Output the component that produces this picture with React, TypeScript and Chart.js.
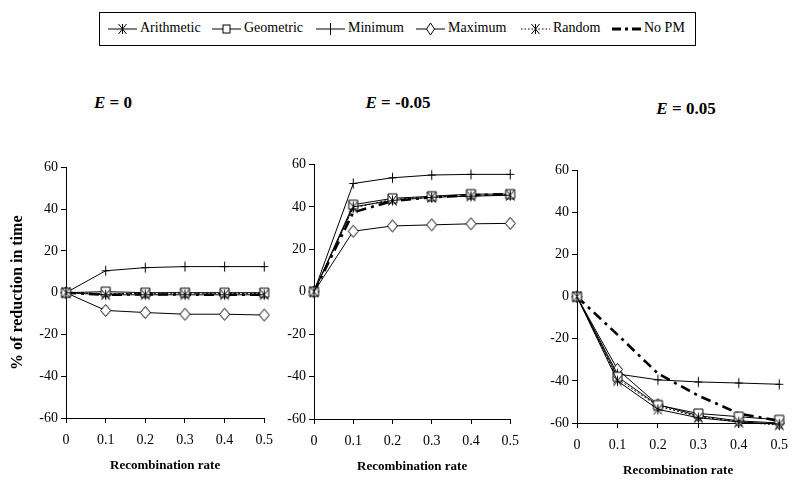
import React, { useEffect, useRef } from 'react';
import { Chart, registerables } from 'chart.js';

Chart.register(...registerables);

const rates = ['0', '0.1', '0.2', '0.3', '0.4', '0.5'];
const yMin = -60;
const yMax = 60;
const yStep = 20;
const seriesNames = ['Arithmetic', 'Geometric', 'Minimum', 'Maximum', 'Random', 'No PM'];

// E = 0
const e0Arithmetic = [0, -1, -1, -1, -1, -1];
const e0Geometric = [0, 0.5, 0, 0, 0, 0];
const e0Minimum = [0, 10.5, 12, 12.5, 12.5, 12.5];
const e0Maximum = [0, -8.5, -9.5, -10.3, -10.3, -10.7];
const e0Random = [0, -0.5, -0.3, -0.2, -0.3, -0.3];
const e0NoPM = [0, -1, -0.8, -0.9, -1, -1];

// E = -0.05
const eNegArithmetic = [0, 40, 43, 44.5, 45, 45.5];
const eNegGeometric = [0, 41, 44, 45, 46, 46];
const eNegMinimum = [0, 51, 53.7, 55, 55.3, 55.3];
const eNegMaximum = [0, 28.5, 31, 31.5, 32, 32.2];
const eNegRandom = [0, 39.5, 43.5, 44.5, 45.5, 45.5];
const eNegNoPM = [0, 37.4, 42.8, 44.5, 45.5, 46];

// E = 0.05
const ePosArithmetic = [0, -40, -53.5, -57.5, -59.5, -60.5];
const ePosGeometric = [0, -38, -51.5, -55.5, -57, -58.5];
const ePosMinimum = [0, -36.7, -39.5, -40.5, -41, -41.6];
const ePosMaximum = [0, -34.5, -51.3, -56.5, -59, -60];
const ePosRandom = [0, -39, -52, -57, -59.5, -61];
const ePosNoPM = [0, -18, -36.5, -47, -55.5, -59];

const FONT = '"Liberation Serif", "DejaVu Serif", serif';

function makeMarker(kind: string): HTMLCanvasElement {
  const s = 15;
  const c = document.createElement('canvas');
  c.width = s;
  c.height = s;
  const g = c.getContext('2d')!;
  g.strokeStyle = '#000';
  g.fillStyle = '#fff';
  g.lineWidth = 1;
  const m = 7.5;
  g.beginPath();
  if (kind === 'star') {
    g.moveTo(m - 4, m - 5);
    g.lineTo(m + 4, m + 5);
    g.moveTo(m + 4, m - 5);
    g.lineTo(m - 4, m + 5);
    g.moveTo(m, m - 5);
    g.lineTo(m, m + 5);
    g.stroke();
  } else if (kind === 'square') {
    g.rect(m - 4.5, m - 4.5, 9, 9);
    g.fill();
    g.stroke();
  } else if (kind === 'plus') {
    g.moveTo(m, m - 5);
    g.lineTo(m, m + 5);
    g.moveTo(m - 4, m);
    g.lineTo(m + 4, m);
    g.stroke();
  } else if (kind === 'diamond') {
    g.moveTo(m, m - 6);
    g.lineTo(m + 5, m);
    g.lineTo(m, m + 6);
    g.lineTo(m - 5, m);
    g.closePath();
    g.fill();
    g.stroke();
  }
  return c;
}

function buildDatasets(values: number[][]) {
  const markers = [makeMarker('star'), makeMarker('square'), makeMarker('plus'), makeMarker('diamond'), makeMarker('star'), null];
  return values.map((v, i) => {
    const isNoPM = i === 5;
    const isRandom = i === 4;
    return {
      label: seriesNames[i],
      data: v,
      borderColor: '#000',
      backgroundColor: '#000',
      borderWidth: isNoPM ? 2.6 : 1,
      borderDash: isNoPM ? [10, 5, 3, 5] : isRandom ? [2, 2] : [],
      pointStyle: markers[i] || 'circle',
      pointRadius: isNoPM ? 0 : 5,
      pointHoverRadius: 0,
      tension: 0,
      clip: false,
    };
  });
}

type PanelProps = {
  values: number[][];
  left: number;
  top: number;
  width: number;
  height: number;
  yWidth: number;
  yTitle?: string;
};

function Panel({ values, left, top, width, height, yWidth, yTitle }: PanelProps) {
  const ref = useRef<HTMLCanvasElement>(null);
  useEffect(() => {
    const tickFont = { family: FONT, size: 14 };
    const chart = new Chart(ref.current!, {
      type: 'line',
      data: { labels: rates, datasets: buildDatasets(values) as any },
      options: {
        animation: false,
        responsive: false,
        maintainAspectRatio: false,
        events: [],
        layout: { padding: { top: 10, right: 15, left: 0, bottom: 0 } },
        plugins: { legend: { display: false }, tooltip: { enabled: false }, title: { display: false } },
        scales: {
          x: {
            type: 'category',
            offset: false,
            grid: { drawOnChartArea: false, drawTicks: true, tickLength: 5, color: '#000' },
            border: { display: true, color: '#000', width: 1 },
            ticks: { color: '#000', font: tickFont, padding: 9, maxRotation: 0, autoSkip: false },
            title: {
              display: true,
              text: 'Recombination rate',
              color: '#000',
              font: { family: FONT, size: 13, weight: 'bold' },
              padding: { top: 4, bottom: 5 },
            },
            afterFit: (s: any) => {
              s.height = 60;
            },
          },
          y: {
            min: yMin,
            max: yMax,
            grid: { drawOnChartArea: false, drawTicks: true, tickLength: 5, color: '#000' },
            border: { display: true, color: '#000', width: 1 },
            ticks: { stepSize: yStep, color: '#000', font: tickFont, padding: 3 },
            title: {
              display: !!yTitle,
              text: yTitle || '',
              color: '#000',
              font: { family: FONT, size: 16, weight: 'bold' },
              padding: { top: 8, bottom: 0 },
            },
            afterFit: (s: any) => {
              s.width = yWidth;
            },
          },
        },
      } as any,
    });
    return () => chart.destroy();
  }, []);
  return (
    <canvas
      ref={ref}
      width={width}
      height={height}
      style={{ position: 'absolute', left, top, width, height }}
    />
  );
}

function LegendIcon({ kind }: { kind: number }) {
  const stroke = '#000';
  const line =
    kind === 5 ? (
      <line x1={1} y1={8} x2={30} y2={8} stroke={stroke} strokeWidth={3} strokeDasharray="9 4 3 4" />
    ) : (
      <line x1={1} y1={8} x2={30} y2={8} stroke={stroke} strokeWidth={1} strokeDasharray={kind === 4 ? '1.5 2' : undefined} />
    );
  let marker: any = null;
  if (kind === 0 || kind === 4) {
    marker = <path d="M11.5 3 L19.5 13 M19.5 3 L11.5 13 M15.5 3 L15.5 13" stroke={stroke} fill="none" />;
  } else if (kind === 1) {
    marker = <rect x={12} y={4} width={7} height={8} fill="#fff" stroke={stroke} />;
  } else if (kind === 2) {
    marker = <path d="M15.5 2 L15.5 14" stroke={stroke} />;
  } else if (kind === 3) {
    marker = <path d="M15.5 2 L19.5 8 L15.5 14 L11.5 8 Z" fill="#fff" stroke={stroke} />;
  }
  return (
    <svg width={31} height={16} style={{ position: 'absolute', left: 0, top: 0 }}>
      {line}
      {marker}
    </svg>
  );
}

const legendIconX = [107, 211, 315, 415, 520, 611];

function Legend() {
  return (
    <div>
      <div
        style={{
          position: 'absolute',
          left: 99,
          top: 12,
          width: 597,
          height: 34,
          border: '1px solid #000',
          boxSizing: 'border-box',
        }}
      />
      {seriesNames.map((name, i) => (
        <div key={name} style={{ position: 'absolute', left: legendIconX[i], top: 21, height: 16 }}>
          <LegendIcon kind={i} />
          <span
            style={{
              position: 'absolute',
              left: 33,
              top: -2,
              fontFamily: FONT,
              fontSize: 14,
              lineHeight: '18px',
              whiteSpace: 'nowrap',
              color: '#000',
            }}
          >
            {name}
          </span>
        </div>
      ))}
    </div>
  );
}

function PanelTitle({ text, cx, cy }: { text: string; cx: number; cy: number }) {
  return (
    <div
      style={{
        position: 'absolute',
        left: cx - 60,
        width: 120,
        top: cy - 11,
        textAlign: 'center',
        fontFamily: FONT,
        fontSize: 17,
        fontWeight: 'bold',
        whiteSpace: 'nowrap',
        color: '#000',
        lineHeight: '22px',
      }}
    >
      <i>E</i> = {text}
    </div>
  );
}

export default function App() {
  return (
    <div style={{ position: 'absolute', left: 0, top: 0, width: 800, height: 489, background: '#fff', overflow: 'hidden' }}>
      <Legend />
      <PanelTitle text="0" cx={113} cy={103} />
      <PanelTitle text="-0.05" cx={398} cy={103} />
      <PanelTitle text="0.05" cx={686} cy={109} />
      <Panel
        values={[e0Arithmetic, e0Geometric, e0Minimum, e0Maximum, e0Random, e0NoPM]}
        left={0}
        top={156}
        width={282}
        height={322}
        yWidth={66}
        yTitle="% of reduction in time"
      />
      <Panel
        values={[eNegArithmetic, eNegGeometric, eNegMinimum, eNegMaximum, eNegRandom, eNegNoPM]}
        left={270}
        top={153}
        width={258}
        height={326}
        yWidth={44}
      />
      <Panel
        values={[ePosArithmetic, ePosGeometric, ePosMinimum, ePosMaximum, ePosRandom, ePosNoPM]}
        left={533}
        top={159}
        width={264}
        height={324}
        yWidth={44}
      />
    </div>
  );
}
